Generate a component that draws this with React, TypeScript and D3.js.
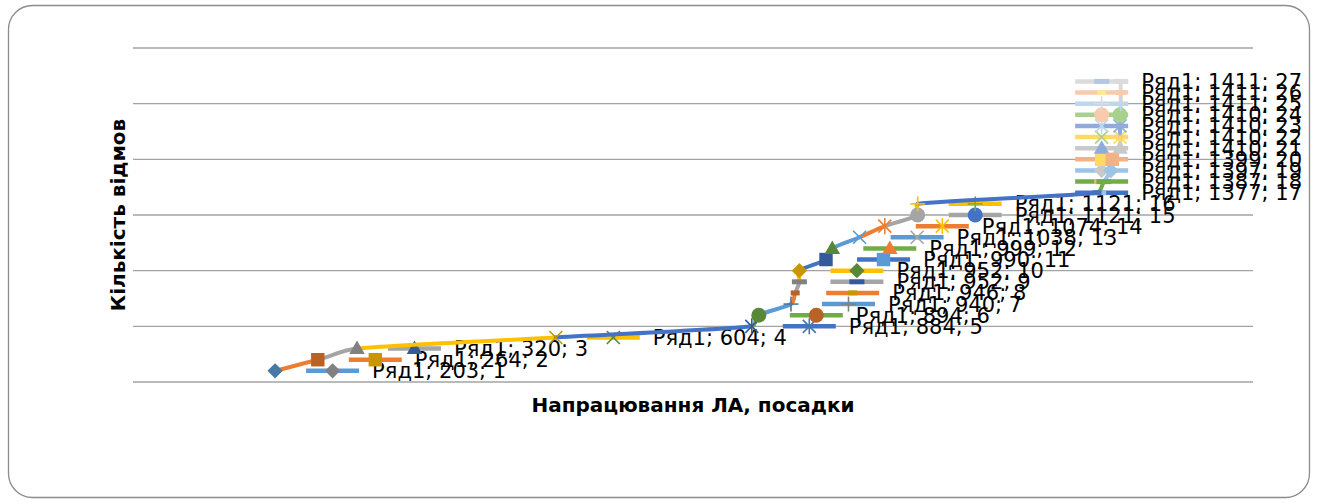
import React, { useMemo } from 'react';
import * as d3 from 'd3';

// Failure count vs. accumulated landings (series "Ряд1")
const seriesName = 'Ряд1';
const landings = [203, 264, 320, 604, 884, 894, 940, 946, 952, 952, 990, 999, 1038, 1074, 1121, 1121, 1377, 1387, 1397, 1399, 1410, 1410, 1410, 1410, 1411, 1411, 1411];
const failures = [1, 2, 3, 4, 5, 6, 7, 8, 9, 10, 11, 12, 13, 14, 15, 16, 17, 18, 19, 20, 21, 22, 23, 24, 25, 26, 27];

// Per-point colours (vary colours by point), two extra for the label keys
const pointColors = [
  '#5B9BD5', '#ED7D31', '#A5A5A5', '#FFC000', '#4472C4', '#70AD47',
  '#5B9BD5', '#ED7D31', '#A5A5A5', '#FFC000', '#4472C4', '#70AD47',
  '#5B9BD5', '#ED7D31', '#A5A5A5', '#FFC000', '#4472C4', '#70AD47',
  '#9DC3E6', '#F4B183', '#C9C9C9', '#FFD966', '#8FAADC', '#A9D18E',
  '#BDD7EE', '#F8CBAD', '#DBDBDB', '#FFE699', '#B4C7E7',
];
const markerCycle = ['diamond', 'square', 'triangle', 'x', 'star', 'circle', 'plus', 'dash', 'longDash'];
const yTicks = [0, 5, 10, 15, 20, 25, 30];
const xDomain = [0, 1600];
const yDomain = [0, 30];
const xTitle = 'Напрацювання ЛА, посадки';
const yTitle = 'Кількість відмов';

const W = 1318;
const H = 503;
const plot = { left: 133, right: 1253, top: 48, bottom: 382 };
const labelFamily = '"DejaVu Sans", "Liberation Sans", sans-serif';
const labelSize = 21;
const labelRightLimit = 1302;

const shade = (c: string, k: number) => {
  const r = d3.rgb(c);
  return d3.rgb(r.r * k, r.g * k, r.b * k).formatHex();
};
const markerFill = (j: number) => {
  const c = pointColors[j % pointColors.length];
  return j < 12 ? shade(c, 0.78) : c;
};

function Marker({ shape, x, y, color }: { shape: string; x: number; y: number; color: string }) {
  const t = `translate(${x},${y})`;
  switch (shape) {
    case 'diamond':
      return <path transform={`${t} rotate(45)`} d={d3.symbol(d3.symbolSquare, 118)()!} fill={color} />;
    case 'square':
      return <path transform={t} d={d3.symbol(d3.symbolSquare, 180)()!} fill={color} />;
    case 'triangle':
      return <path transform={`${t} translate(0,1)`} d={d3.symbol(d3.symbolTriangle, 105)()!} fill={color} />;
    case 'circle':
      return <circle cx={x} cy={y} r={7.5} fill={color} />;
    case 'x':
      return (
        <g transform={t} stroke={color} strokeWidth={1.6}>
          <line x1={-6.5} y1={-6.5} x2={6.5} y2={6.5} />
          <line x1={-6.5} y1={6.5} x2={6.5} y2={-6.5} />
        </g>
      );
    case 'star':
      return (
        <g transform={t} stroke={color} strokeWidth={1.6}>
          <line x1={-6.5} y1={-6.5} x2={6.5} y2={6.5} />
          <line x1={-6.5} y1={6.5} x2={6.5} y2={-6.5} />
          <line x1={0} y1={-8} x2={0} y2={8} />
        </g>
      );
    case 'plus':
      return (
        <g transform={t} stroke={color} strokeWidth={1.6}>
          <line x1={-7.5} y1={0} x2={7.5} y2={0} />
          <line x1={0} y1={-7.5} x2={0} y2={7.5} />
        </g>
      );
    case 'dash':
      return <rect x={x - 4.5} y={y - 2.5} width={9} height={5} fill={color} />;
    default:
      return <rect x={x - 7.5} y={y - 2.5} width={15} height={5} fill={color} />;
  }
}

type P = { px: number; py: number };

// Tangent of the smoothed line at b (uniform Catmull-Rom), kept short
// enough relative to the chord so that tight segments do not loop.
const handle = (a: P, c: P, chord: number) => {
  let tx = (c.px - a.px) / 6;
  let ty = (c.py - a.py) / 6;
  const len = Math.hypot(tx, ty);
  const max = chord / 3;
  if (len > max && len > 0) {
    tx *= max / len;
    ty *= max / len;
  }
  return [tx, ty];
};

export default function App() {
  const x = d3.scaleLinear().domain(xDomain).range([plot.left, plot.right]);
  const y = d3.scaleLinear().domain(yDomain).range([plot.bottom, plot.top]);

  const pts = landings.map((v, i) => ({ px: x(v), py: y(failures[i]), lx: v, ly: failures[i] }));

  // Each piece of the smoothed line takes the colour of the point it ends on
  const segments = pts.slice(1).map((p2, k) => {
    const i = k + 1;
    const p1 = pts[i - 1];
    const p0 = pts[i - 2] ?? p1;
    const p3 = pts[i + 1] ?? p2;
    const chord = Math.hypot(p2.px - p1.px, p2.py - p1.py);
    const [ax, ay] = handle(p0, p2, chord);
    const [bx, by] = handle(p1, p3, chord);
    const path = d3.path();
    path.moveTo(p1.px, p1.py);
    path.bezierCurveTo(p1.px + ax, p1.py + ay, p2.px - bx, p2.py - by, p2.px, p2.py);
    return { d: path.toString(), color: pointColors[i] };
  });

  const measure = useMemo(() => {
    const ctx = document.createElement('canvas').getContext('2d')!;
    return (t: string) => {
      ctx.font = `${labelSize}px ${labelFamily}`;
      return ctx.measureText(t).width;
    };
  }, []);

  const labels = pts.map((p, i) => {
    const text = `${seriesName}; ${p.lx}; ${p.ly}`;
    const w = measure(text);
    let tx = p.px + 97;
    const over = tx + w - labelRightLimit;
    const shift = over > 0 ? over : 0;
    tx -= shift;
    const kx = p.px + 31 - shift;
    return { text, tx, kx, py: p.py, i };
  });

  return (
    <svg width={W} height={H} style={{ position: 'absolute', left: 0, top: 0, background: '#fff' }}>
      <rect x={8.5} y={5.5} width={1301} height={492} rx={24} ry={24} fill="#fff" stroke="#8C8C8C" strokeWidth={1.3} />

      {yTicks.map((t) => (
        <line key={t} x1={plot.left} x2={plot.right} y1={y(t)} y2={y(t)} stroke="#A3A3A3" strokeWidth={1.3} />
      ))}

      {labels.map((l) => (
        <g key={l.i}>
          <line x1={l.kx} x2={l.kx + 53} y1={l.py} y2={l.py} stroke={pointColors[l.i]} strokeWidth={4.5} />
          <Marker shape={markerCycle[l.i % markerCycle.length]} x={l.kx + 26.5} y={l.py} color={markerFill(l.i + 2)} />
          <text x={l.tx} y={l.py + 7.5} fontFamily={labelFamily} fontSize={labelSize} fill="#000">
            {l.text}
          </text>
        </g>
      ))}

      {segments.map((s, i) => (
        <path key={i} d={s.d} fill="none" stroke={s.color} strokeWidth={4} strokeLinecap="round" />
      ))}

      {pts.map((p, i) => (
        <Marker key={i} shape={markerCycle[i % markerCycle.length]} x={p.px} y={p.py} color={markerFill(i)} />
      ))}

      <text
        transform={`translate(${118},${(plot.top + plot.bottom) / 2}) rotate(-90)`}
        textAnchor="middle"
        dy="0.35em"
        fontFamily='"DejaVu Sans", sans-serif'
        fontWeight="bold"
        fontSize={20}
        fill="#000"
      >
        {yTitle}
      </text>
      <text
        x={(plot.left + plot.right) / 2}
        y={412}
        textAnchor="middle"
        fontFamily='"DejaVu Sans", sans-serif'
        fontWeight="bold"
        fontSize={20}
        fill="#000"
      >
        {xTitle}
      </text>
    </svg>
  );
}
